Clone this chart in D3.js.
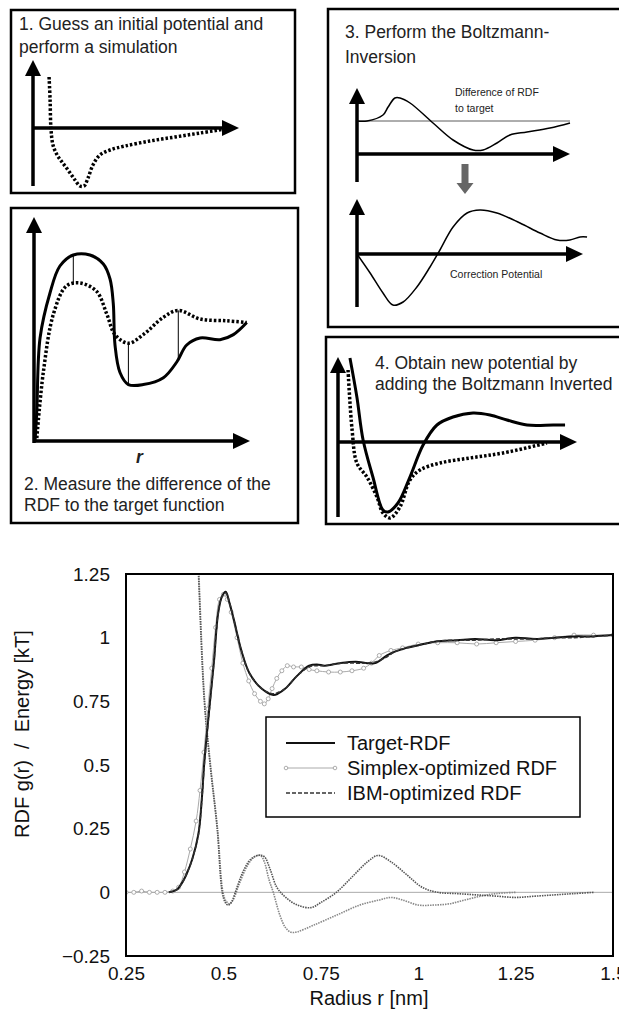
<!DOCTYPE html>
<html>
<head>
<meta charset="utf-8">
<script src="https://cdn.jsdelivr.net/npm/d3@7"></script>
<style>
  body { margin: 0; background: #fff; }
  svg { font-family: "Liberation Sans", Arial, sans-serif; }
</style>
</head>
<body>
<script>
// ---------- schematic panels (arbitrary units, x 0..10 along the axis) ----------
var p1Guess = [[0.78,5.1],[0.83,2.8],[0.87,0],[0.97,-1.7],[1.17,-2.7],[1.41,-3.4],[1.70,-4.2],[2.04,-5.2],[2.28,-5.8],[2.48,-5.8],[2.67,-5.0],[2.91,-3.7],[3.25,-2.7],[3.74,-2.2],[4.47,-1.8],[5.68,-1.3],[6.89,-0.9],[8.11,-0.5],[9.32,-0.1]];

var p2Target = [[0.05,0],[0.13,3],[0.28,10.3],[0.74,14.8],[1.2,17.5],[1.82,18.6],[2.59,18.6],[3.21,17.7],[3.52,16.2],[3.67,13.75],[3.75,9.6],[3.98,6.85],[4.37,5.64],[5.06,5.64],[5.99,6.33],[6.61,7.9],[7.07,9.6],[7.69,10.3],[8.61,10.13],[9.23,10.64],[9.85,11.85]];
var p2Rdf = [[0.13,0.3],[0.43,6.85],[0.9,12.7],[1.5,15.5],[2.13,15.8],[2.9,14.96],[3.37,12.7],[3.75,10.64],[4.37,9.78],[5.06,10.64],[5.99,12.37],[6.68,13.06],[7.69,12.2],[8.92,12.02],[9.85,11.85]];
var p2Gaps = [1.82, 4.37, 6.68];

var p3Diff = [[0,3.3],[0.47,3.3],[1.22,3.9],[1.46,4.7],[1.78,5.6],[2.02,5.6],[2.49,5.1],[3.57,3.1],[4.51,1.4],[5.45,0.4],[5.92,0.4],[6.57,1.1],[7.18,1.9],[7.98,2.2],[9.06,2.6],[10,3.1]];
var p3Ref = 3.3;
var p3Corr = [[0,0],[0.58,-1.9],[1.15,-3.9],[1.59,-5.1],[2.04,-4.8],[2.65,-3.3],[3.23,-1.3],[3.67,0.4],[4.25,2.7],[4.87,4.1],[5.44,4.4],[6.19,4.1],[7.21,3.1],[8.1,2.1],[8.85,1.4],[9.42,1.4],[9.87,1.7],[10.18,1.7]];

var p4New = [[0.5,8.4],[0.79,4.5],[1.05,0.2],[1.46,-3.5],[1.88,-6.8],[2.09,-7],[2.51,-6.1],[3.01,-3.5],[3.56,-0.3],[4.14,1.7],[4.81,2.5],[5.65,2.9],[6.36,2.7],[7.07,2.2],[7.91,1.7],[9.0,1.7],[9.5,1.7]];
var p4Old = [[0.42,7.2],[0.59,1.2],[0.79,-2.1],[1.21,-3.5],[1.63,-5.5],[1.88,-7.1],[2.18,-7.6],[2.59,-6.5],[3.01,-3.8],[3.43,-2.8],[4.27,-2.1],[5.52,-1.6],[6.9,-1.1],[8.74,-0.1]];

// ---------- main chart data: radius r [nm] vs value ----------
var targetRdf = [[0.36,0],[0.38,0.01],[0.395,0.04],[0.405,0.07],[0.42,0.13],[0.436,0.23],[0.445,0.375],[0.451,0.51],[0.466,0.755],[0.476,0.91],[0.486,1.09],[0.496,1.16],[0.506,1.18],[0.515,1.14],[0.527,1.07],[0.546,0.95],[0.567,0.86],[0.598,0.80],[0.628,0.775],[0.64,0.78],[0.659,0.80],[0.689,0.85],[0.72,0.89],[0.74,0.895],[0.76,0.89],[0.78,0.895],[0.80,0.90],[0.84,0.905],[0.87,0.90],[0.89,0.90],[0.92,0.93],[0.94,0.945],[0.97,0.96],[1.0,0.97],[1.045,0.985],[1.1,0.99],[1.146,0.995],[1.2,0.99],[1.25,1.0],[1.3,0.995],[1.35,1.0],[1.4,1.005],[1.45,1.005],[1.5,1.01]];
var simplexRdf = [[0.25,0],[0.27,0],[0.29,0.005],[0.31,0],[0.33,0],[0.35,0],[0.37,0.005],[0.385,0.02],[0.40,0.08],[0.415,0.17],[0.43,0.28],[0.44,0.4],[0.45,0.55],[0.46,0.72],[0.47,0.88],[0.48,1.04],[0.49,1.15],[0.50,1.17],[0.51,1.15],[0.52,1.10],[0.535,1.0],[0.55,0.9],[0.565,0.83],[0.58,0.78],[0.595,0.75],[0.605,0.74],[0.615,0.76],[0.625,0.80],[0.637,0.84],[0.65,0.87],[0.664,0.89],[0.68,0.885],[0.70,0.885],[0.72,0.875],[0.74,0.87],[0.77,0.865],[0.80,0.865],[0.83,0.87],[0.86,0.88],[0.88,0.90],[0.90,0.93],[0.93,0.95],[0.96,0.96],[1.0,0.975],[1.05,0.98],[1.1,0.98],[1.15,0.975],[1.2,0.98],[1.25,0.985],[1.3,0.99],[1.35,1.0],[1.4,1.01],[1.45,1.01],[1.5,1.01]];
var ibmRdf = [[0.36,0],[0.38,0.01],[0.395,0.04],[0.405,0.07],[0.42,0.13],[0.436,0.23],[0.445,0.37],[0.451,0.5],[0.466,0.75],[0.476,0.91],[0.486,1.09],[0.496,1.16],[0.506,1.175],[0.515,1.14],[0.527,1.07],[0.546,0.95],[0.567,0.86],[0.598,0.80],[0.628,0.78],[0.64,0.785],[0.659,0.80],[0.689,0.85],[0.72,0.885],[0.74,0.89],[0.76,0.89],[0.78,0.895],[0.80,0.90],[0.84,0.9],[0.87,0.9],[0.89,0.905],[0.92,0.925],[0.94,0.945],[0.97,0.96],[1.0,0.97],[1.045,0.985],[1.1,0.99],[1.146,0.99],[1.2,0.995],[1.25,0.995],[1.3,0.995],[1.35,1.0],[1.4,1.0],[1.45,1.005],[1.5,1.01]];
var ibmPotential = [[0.42,1.9],[0.436,1.25],[0.451,0.75],[0.466,0.5],[0.484,0.25],[0.497,0],[0.505,-0.04],[0.512,-0.05],[0.52,-0.04],[0.535,0.02],[0.55,0.08],[0.57,0.13],[0.59,0.145],[0.605,0.14],[0.62,0.09],[0.637,0.02],[0.66,-0.02],[0.69,-0.05],[0.725,-0.06],[0.75,-0.04],[0.79,0],[0.83,0.06],[0.87,0.12],[0.897,0.145],[0.93,0.12],[0.97,0.07],[1.01,0.02],[1.05,0],[1.1,-0.005],[1.15,-0.01],[1.2,-0.015],[1.25,-0.02],[1.3,-0.015],[1.35,-0.01],[1.4,-0.005],[1.45,0]];
var simplexPotential = [[0.421,1.9],[0.437,1.25],[0.452,0.75],[0.467,0.5],[0.485,0.25],[0.499,0],[0.507,-0.035],[0.516,-0.045],[0.525,-0.03],[0.54,0.03],[0.56,0.1],[0.58,0.14],[0.595,0.145],[0.605,0.12],[0.617,0.05],[0.628,0],[0.645,-0.09],[0.66,-0.14],[0.674,-0.157],[0.69,-0.155],[0.73,-0.13],[0.79,-0.09],[0.85,-0.05],[0.9,-0.03],[0.93,-0.02],[0.96,-0.03],[1.0,-0.05],[1.04,-0.05],[1.08,-0.045],[1.12,-0.03],[1.16,-0.015],[1.2,-0.005],[1.25,0]];

var xTicks = [0.25, 0.5, 0.75, 1, 1.25, 1.5];
var yTicks = [-0.25, 0, 0.25, 0.5, 0.75, 1, 1.25];
var legendNames = ["Target-RDF", "Simplex-optimized RDF", "IBM-optimized RDF"];

var svg = d3.select("body").append("svg")
    .attr("width", 619)
    .attr("height", 1009);

//draw an arrow axis pair for a schematic panel
function arrowAxes(g, ox, oy, topY, bottomY, tipX){
    g.append("line").attr("x1", ox).attr("y1", bottomY).attr("x2", ox).attr("y2", topY + 12)
        .style("stroke", "#000").style("stroke-width", 3.5);
    g.append("path").attr("d", "M" + ox + "," + topY + "L" + (ox - 8) + "," + (topY + 16) + "L" + (ox + 8) + "," + (topY + 16) + "Z")
        .style("fill", "#000");
    g.append("line").attr("x1", ox).attr("y1", oy).attr("x2", tipX - 12).attr("y2", oy)
        .style("stroke", "#000").style("stroke-width", 3.5);
    g.append("path").attr("d", "M" + tipX + "," + oy + "L" + (tipX - 17) + "," + (oy - 8) + "L" + (tipX - 17) + "," + (oy + 8) + "Z")
        .style("fill", "#000");
}

function box(x, y, w, h){
    svg.append("rect").attr("x", x).attr("y", y).attr("width", w).attr("height", h)
        .style("fill", "none").style("stroke", "#000").style("stroke-width", 2.5);
}

function label(x, y, txt, size, extra){
    var t = svg.append("text").attr("x", x).attr("y", y).text(txt)
        .style("font-size", size + "px").style("fill", "#222");
    if (extra) t.style("font-style", extra);
    return t;
}

function schematic(ox, oy, tipX){
    return {
        x: d3.scaleLinear().domain([0, 10]).range([ox, tipX]),
        y: d3.scaleLinear().domain([0, 10]).range([oy, oy - 100])
    };
}

function curve(s, data, style){
    var line = d3.line()
        .x(function(d){ return s.x(d[0]); })
        .y(function(d){ return s.y(d[1]); })
        .curve(d3.curveCatmullRom.alpha(0.5));
    var p = svg.append("path").datum(data).attr("d", line)
        .style("fill", "none").style("stroke", "#000")
        .style("stroke-linecap", "butt").style("stroke-linejoin", "round");
    if (style === "dot") p.style("stroke-width", 3.5).style("stroke-dasharray", "2.5,2");
    else if (style === "thick") p.style("stroke-width", 3);
    else p.style("stroke-width", 1.5);
    return p;
}

function interp(data, x){
    for (var i = 1; i < data.length; i++){
        if (data[i][0] >= x){
            var a = data[i - 1], b = data[i];
            return a[1] + (b[1] - a[1]) * (x - a[0]) / (b[0] - a[0]);
        }
    }
    return data[data.length - 1][1];
}

// panel 1
box(11, 10, 284, 183);
label(19, 30, "1. Guess an initial potential and", 17.5);
label(19, 53, "perform a simulation", 17.5);
var s1 = schematic(33, 128, 239);
arrowAxes(svg.append("g"), 33, 128, 60, 186, 239);
curve(s1, p1Guess, "dot");

// panel 2
box(11, 208, 287, 315);
var s2 = schematic(34, 441, 250);
arrowAxes(svg.append("g"), 34, 441, 217, 443, 250);
p2Gaps.forEach(function(g){
    svg.append("line")
        .attr("x1", s2.x(g)).attr("x2", s2.x(g))
        .attr("y1", s2.y(interp(p2Target, g))).attr("y2", s2.y(interp(p2Rdf, g)))
        .style("stroke", "#000").style("stroke-width", 1);
});
curve(s2, p2Rdf, "dot");
curve(s2, p2Target, "thick");
label(136, 463, "r", 17.5, "italic").style("font-weight", "bold");
label(24, 490, "2. Measure the difference of the", 17.5);
label(24, 511, "RDF to the target function", 17.5);

// panel 3
box(328, 9, 300, 318);
label(345, 38, "3. Perform the Boltzmann-", 17.5);
label(345, 63, "Inversion", 17.5);
var s3a = schematic(357, 154, 570);
arrowAxes(svg.append("g"), 357, 154, 88, 182, 570);
svg.append("line").attr("x1", s3a.x(0)).attr("x2", s3a.x(10))
    .attr("y1", s3a.y(p3Ref)).attr("y2", s3a.y(p3Ref))
    .style("stroke", "#333").style("stroke-width", 0.8);
curve(s3a, p3Diff, "thin");
label(455, 96, "Difference of RDF", 10.5);
label(455, 112, "to target", 10.5);
svg.append("path")
    .attr("d", "M461.5,164L468.5,164L468.5,183L473.5,183L465,194L456.5,183L461.5,183Z")
    .style("fill", "#666");
var s3b = schematic(357, 254, 583);
arrowAxes(svg.append("g"), 357, 254, 199, 307, 583);
curve(s3b, p3Corr, "thin");
label(450, 278, "Correction Potential", 10.5);

// panel 4
box(326, 337, 300, 187);
label(375, 369, "4. Obtain new potential by", 17.5);
label(375, 390, "adding the Boltzmann Inverted", 17.5);
var s4 = schematic(338, 442, 577);
arrowAxes(svg.append("g"), 338, 442, 357, 517, 577);
curve(s4, p4Old, "dot");
curve(s4, p4New, "thick");

// ---------- main chart ----------
var x = d3.scaleLinear().domain([0.25, 1.5]).range([126, 613]);
var y = d3.scaleLinear().domain([-0.25, 1.25]).range([956, 574]);

svg.append("clipPath").attr("id", "plotClip")
    .append("rect").attr("x", 126).attr("y", 574).attr("width", 487).attr("height", 382);

var plot = svg.append("g").attr("clip-path", "url(#plotClip)");

var line = d3.line()
    .x(function(d){ return x(d[0]); })
    .y(function(d){ return y(d[1]); })
    .curve(d3.curveCatmullRom.alpha(0.5));

//zero reference line
plot.append("line")
    .attr("x1", x(0.25)).attr("x2", x(1.5))
    .attr("y1", y(0)).attr("y2", y(0))
    .style("stroke", "#aaa").style("stroke-width", 1);

plot.append("path").datum(simplexPotential).attr("d", line)
    .style("fill", "none").style("stroke", "#888").style("stroke-width", 1.6).style("stroke-dasharray", "1.5,1");
plot.append("path").datum(ibmPotential).attr("d", line)
    .style("fill", "none").style("stroke", "#555").style("stroke-width", 1.6).style("stroke-dasharray", "1.5,1");

plot.append("path").datum(simplexRdf).attr("d", line)
    .style("fill", "none").style("stroke", "#aaa").style("stroke-width", 1);
plot.selectAll(".simplexDot")
    .data(simplexRdf)
    .enter()
    .append("circle")
    .attr("class", "simplexDot")
    .attr("cx", function(d){ return x(d[0]); })
    .attr("cy", function(d){ return y(d[1]); })
    .attr("r", 2)
    .style("fill", "#fff").style("stroke", "#999").style("stroke-width", 0.8);

plot.append("path").datum(targetRdf).attr("d", line)
    .style("fill", "none").style("stroke", "#111").style("stroke-width", 2);
plot.append("path").datum(ibmRdf).attr("d", line)
    .style("fill", "none").style("stroke", "#333").style("stroke-width", 1.5).style("stroke-dasharray", "4,2");

//frame
svg.append("rect").attr("x", 126).attr("y", 574).attr("width", 487).attr("height", 382)
    .style("fill", "none").style("stroke", "#000").style("stroke-width", 2);

//axes
var fmt = d3.format("~g");
var xAxis = svg.append("g")
    .attr("transform", "translate(0,956)")
    .call(d3.axisBottom(x).tickValues(xTicks).tickSize(0).tickPadding(11).tickFormat(fmt));
var yAxis = svg.append("g")
    .attr("transform", "translate(126,0)")
    .call(d3.axisLeft(y).tickValues(yTicks).tickSize(0).tickPadding(16).tickFormat(fmt));
[xAxis, yAxis].forEach(function(a){
    a.select(".domain").remove();
    a.selectAll("text")
        .style("font-family", "'Liberation Sans', Arial, sans-serif")
        .style("font-size", "19px")
        .style("fill", "#111");
});

svg.append("text")
    .attr("x", 369).attr("y", 1005)
    .attr("text-anchor", "middle")
    .style("font-size", "20px").style("fill", "#111")
    .text("Radius r [nm]");

svg.append("text")
    .attr("transform", "translate(29,734) rotate(-90)")
    .attr("text-anchor", "middle")
    .style("font-size", "20px").style("fill", "#111")
    .style("white-space", "pre")
    .text("RDF g(r)  /  Energy [kT]");

//legend
var legend = svg.append("g").attr("class", "legend");
legend.append("rect").attr("x", 266).attr("y", 717).attr("width", 314).attr("height", 100)
    .style("fill", "#fff").style("stroke", "#000").style("stroke-width", 1.5);
var rows = legend.selectAll(".row")
    .data(legendNames)
    .enter()
    .append("g")
    .attr("class", "row")
    .attr("transform", function(d, i){ return "translate(0," + (743 + i * 25) + ")"; });
rows.append("line")
    .attr("x1", 286).attr("x2", 335).attr("y1", 0).attr("y2", 0)
    .style("stroke", function(d, i){ return ["#111", "#aaa", "#333"][i]; })
    .style("stroke-width", function(d, i){ return [2, 1, 1.5][i]; })
    .style("stroke-dasharray", function(d, i){ return i === 2 ? "4,2" : null; });
rows.filter(function(d, i){ return i === 1; })
    .selectAll("circle")
    .data([286, 335])
    .enter()
    .append("circle")
    .attr("cx", function(d){ return d; }).attr("cy", 0).attr("r", 1.8)
    .style("fill", "#fff").style("stroke", "#999").style("stroke-width", 0.8);
rows.append("text")
    .attr("x", 347).attr("y", 7)
    .style("font-size", "20px").style("fill", "#111")
    .text(function(d){ return d; });
</script>
</body>
</html>
